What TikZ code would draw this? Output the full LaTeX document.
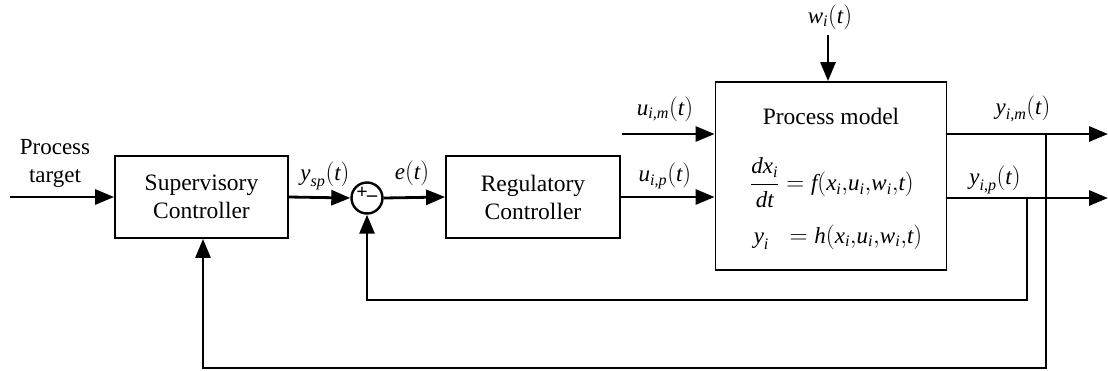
\documentclass[tikz,border=0pt]{standalone}
\usepackage{fontspec}
\usepackage{amsmath}
\setmainfont{Liberation Serif}
\usetikzlibrary{arrows.meta}
\newcommand{\V}[1]{\text{\itshape #1}}
\begin{document}
\begin{tikzpicture}[x=1pt,y=-1pt,
  blk/.style={draw,line width=1.8pt,rectangle,inner sep=0pt,font=\fontsize{23.5}{28}\selectfont,align=center},
  wire/.style={line width=2.8pt},
  arr/.style={wire,-{Triangle[length=19pt,width=15pt]}},
  lbl/.style={font=\fontsize{23}{27}\selectfont},
  sumc/.style={draw,line width=2.4pt,circle,minimum size=31pt,inner sep=0pt}
]
\useasboundingbox (0,0) rectangle (1108,370);
% blocks
\node[blk,minimum width=173pt,minimum height=82pt] (sup) at (201.5,197) {Supervisory\\Controller};
\node[sumc] (sum) at (367,198) {};
\node[font=\bfseries\fontsize{20}{20}\selectfont] (plus) at (362,193) {+};
\node[font=\bfseries\fontsize{20}{20}\selectfont] (minus) at (372,196) {\_};
\node[blk,minimum width=174pt,minimum height=82pt] (reg) at (533,197) {Regulatory\\Controller};
\node[blk,minimum width=231pt,minimum height=188pt] (proc) at (831,176) {};
\node[font=\fontsize{23.5}{28}\selectfont] (pm) at (831,116) {Process model};
\node[lbl] (eq1) at (832,183) {$\dfrac{\V{dx}_{\V{i}}}{\V{dt}} = \V{f}(\V{x}_{\V{i}}{,}\V{u}_{\V{i}}{,}\V{w}_{\V{i}}{,}\V{t})$};
\node[lbl] (eq2) at (838,237) {$\V{y}_{\V{i}}\;\; = \V{h}(\V{x}_{\V{i}}{,}\V{u}_{\V{i}}{,}\V{w}_{\V{i}}{,}\V{t})$};
% coordinates
\coordinate (in) at (10,197);
\coordinate (uim) at (622,134);
\coordinate (wtop) at (828,35);
\coordinate (yimend) at (1108,134);
\coordinate (yipend) at (1108,198);
\coordinate (j1) at (1027,198);
\coordinate (j1b) at (1027,300);
\coordinate (j1c) at (367,300);
\coordinate (j2) at (1046,134);
\coordinate (j2b) at (1046,368);
\coordinate (j2c) at (203,368);
% labels
\node[font=\fontsize{23}{28}\selectfont,align=center] (pt) at (55,163) {Process\\target};
\node[lbl] (lysp) at (325,176) {$\V{y}_{\V{sp}}(\V{t})$};
\node[lbl] (le) at (412,173) {$\V{e}(\V{t})$};
\node[lbl] (luip) at (665,176) {$\V{u}_{\V{i,p}}(\V{t})$};
\node[lbl] (luim) at (665,109) {$\V{u}_{\V{i,m}}(\V{t})$};
\node[lbl] (lw) at (830,17) {$\V{w}_{\V{i}}(\V{t})$};
\node[lbl] (lyim) at (1023,109) {$\V{y}_{\V{i,m}}(\V{t})$};
\node[lbl] (lyip) at (995,180) {$\V{y}_{\V{i,p}}(\V{t})$};
% connectors
\draw[arr] (in) -- (sup.west);
\draw[arr] (sup.east) -- (sum.west);
\draw[arr] (sum.east) -- (reg.west);
\draw[arr] (reg.east) -- (proc.west |- reg.east);
\draw[arr] (uim) -- (proc.west |- uim);
\draw[arr] (wtop) -- (wtop |- proc.north);
\draw[arr] (proc.east |- yimend) -- (yimend);
\draw[arr] (proc.east |- yipend) -- (yipend);
\draw[arr] (j1) -- (j1b) -- (j1c) -- (sum.south);
\draw[arr] (j2) -- (j2b) -- (j2c) -- (sup.south -| j2c);
\end{tikzpicture}
\end{document}
